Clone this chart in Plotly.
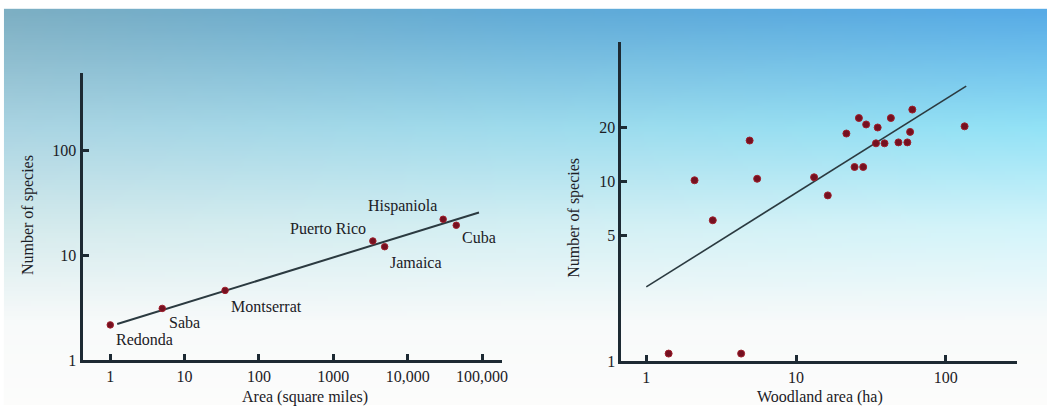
import base64, struct, zlib
import numpy as np
import plotly.graph_objects as go

# ---------------- data ----------------
island_names = ["Redonda", "Saba", "Montserrat", "Puerto Rico", "Jamaica", "Hispaniola", "Cuba"]
island_area = [1, 5, 35, 3400, 4900, 30000, 45000]
island_species = [2.16, 3.1, 4.6, 13.6, 12.0, 21.9, 19.2]
island_fit_x = [1.24, 91000]
island_fit_y = [2.2, 25.4]

wood_area = [1.41, 4.3, 2.1, 2.78, 4.9, 5.5, 13.2, 16.3, 21.7, 24.6, 28.1, 26.3, 29.4, 35.1,
             34.2, 39.0, 43.0, 48.3, 55.4, 57.8, 59.8, 133.6]
wood_species = [1.1, 1.1, 10.2, 6.1, 17.0, 10.4, 10.6, 8.4, 18.6, 12.1, 12.1, 22.7, 20.9, 20.1,
                16.4, 16.4, 22.7, 16.6, 16.6, 19.0, 25.3, 20.4]
wood_fit_x = [1.0, 137]
wood_fit_y = [2.59, 34.2]

left_xticks = [1, 10, 100, 1000, 10000, 100000]
left_xticktext = ["1", "10", "100", "1000", "10,000", "100,000"]
left_yticks = [1, 10, 100]
right_xticks = [1, 10, 100]
right_yticks = [1, 5, 10, 20]

# ---------------- background gradient image ----------------
W, H = 1053, 414
GW, GH = 211, 82

def lerp(a, b, t):
    return tuple(a[i] + (b[i] - a[i]) * t for i in range(3))

def top_col(u):
    if u < 0.5:
        return lerp((124, 174, 194), (96, 170, 214), u / 0.5)
    return lerp((96, 170, 214), (86, 170, 230), (u - 0.5) / 0.5)

def col(u, py):
    keys = [(9, top_col(u)),
            (130, lerp((170, 212, 226), (146, 226, 246), u)),
            (230, lerp((212, 234, 236), (210, 244, 250), u)),
            (330, (248, 250, 250)),
            (414, (252, 252, 251))]
    for (y0, c0), (y1, c1) in zip(keys[:-1], keys[1:]):
        if py <= y1:
            t = max(0.0, (py - y0) / (y1 - y0))
            return lerp(c0, c1, t)
    return keys[-1][1]

rows = []
for j in range(GH):
    py = 9 + (H - 9) * (j + 0.5) / GH
    row = bytearray()
    for i in range(GW):
        u = (i + 0.5) / GW
        c = col(u, py)
        row += bytes(int(round(v)) for v in c)
    rows.append(b"\x00" + bytes(row))

def chunk(t, d):
    return struct.pack(">I", len(d)) + t + d + struct.pack(">I", zlib.crc32(t + d) & 0xffffffff)

png = (b"\x89PNG\r\n\x1a\n" + chunk(b"IHDR", struct.pack(">IIBBBBB", GW, GH, 8, 2, 0, 0, 0))
       + chunk(b"IDAT", zlib.compress(b"".join(rows))) + chunk(b"IEND", b""))
bg_src = "data:image/png;base64," + base64.b64encode(png).decode()

# ---------------- figure ----------------
FONT = "Liberation Serif, Times New Roman, serif"
INK = "#1b2025"
AXC = "#1d2a33"
DOT = "#741020"

fig = go.Figure()
fig.add_trace(go.Scatter(x=island_fit_x, y=island_fit_y, mode="lines",
                         line=dict(color="#2b3a40", width=2), xaxis="x", yaxis="y", hoverinfo="skip"))
fig.add_trace(go.Scatter(x=island_area, y=island_species, mode="markers", text=island_names,
                         marker=dict(color=DOT, size=6.5, line=dict(color="#a0202c", width=1)),
                         xaxis="x", yaxis="y"))
fig.add_trace(go.Scatter(x=wood_fit_x, y=wood_fit_y, mode="lines",
                         line=dict(color="#2b3a40", width=1.6), xaxis="x2", yaxis="y2", hoverinfo="skip"))
fig.add_trace(go.Scatter(x=wood_area, y=wood_species, mode="markers",
                         marker=dict(color=DOT, size=7, line=dict(color="#a0202c", width=1)),
                         xaxis="x2", yaxis="y2"))

axis_common = dict(type="log", showgrid=False, zeroline=False, showline=True, linewidth=3,
                   linecolor=AXC, ticks="inside", ticklen=6, tickwidth=2.5, tickcolor=AXC,
                   tickfont=dict(family=FONT, size=16, color=INK), fixedrange=True)

fig.update_layout(
    width=W, height=H, margin=dict(l=0, r=0, t=0, b=0),
    paper_bgcolor="white", plot_bgcolor="rgba(0,0,0,0)", showlegend=False,
    xaxis=dict(axis_common, domain=[83 / W, 505 / W], range=[-0.373, 5.27],
               tickvals=left_xticks, ticktext=left_xticktext, anchor="y"),
    yaxis=dict(axis_common, domain=[1 - 368 / H, 1 - 75 / H], range=[0, 2.73],
               tickvals=left_yticks, ticktext=[str(v) for v in left_yticks], anchor="x"),
    xaxis2=dict(axis_common, domain=[625 / W, 1023 / W], range=[-0.166, 2.477],
                tickvals=right_xticks, ticktext=[str(v) for v in right_xticks], anchor="y2"),
    yaxis2=dict(axis_common, domain=[1 - 369 / H, 1 - 43 / H], range=[0, 1.78],
                tickvals=right_yticks, ticktext=[str(v) for v in right_yticks], anchor="x2"),
    images=[dict(source=bg_src, xref="paper", yref="paper", x=4 / W, y=1 - 9 / H,
                 sizex=1 - 4 / W, sizey=1 - 9 / H, xanchor="left", yanchor="top",
                 sizing="stretch", layer="below")],
)

# island labels: (anchor, xshift, yshift)
label_style = {
    "Redonda": ("left", 4, -15),
    "Saba": ("left", 5, -14),
    "Montserrat": ("left", 4, -16),
    "Puerto Rico": ("right", -5, 12),
    "Jamaica": ("left", 3, -16),
    "Hispaniola": ("right", -4, 13),
    "Cuba": ("left", 4, -12),
}
for name, xa, ys in zip(island_names, island_area, island_species):
    anc, dx, dy = label_style[name]
    fig.add_annotation(x=np.log10(xa), y=np.log10(ys), xref="x", yref="y", text=name,
                       showarrow=False, xanchor=anc, yanchor="middle", xshift=dx, yshift=dy,
                       font=dict(family=FONT, size=16, color=INK))

# axis titles
titles = [
    ("Area (square miles)", 307, 406, 0),
    ("Woodland area (ha)", 825, 406, 0),
    ("Number of species", 28, 220, -90),
    ("Number of species", 577, 223, -90),
]
for txt, px, py, ang in titles:
    fig.add_annotation(x=px / W, y=1 - py / H, xref="paper", yref="paper", text=txt,
                       showarrow=False, textangle=ang, xanchor="center", yanchor="middle",
                       font=dict(family=FONT, size=16, color=INK))

fig.write_html("out.html", config={"displayModeBar": False},
               post_script="document.body.style.margin='0';")
